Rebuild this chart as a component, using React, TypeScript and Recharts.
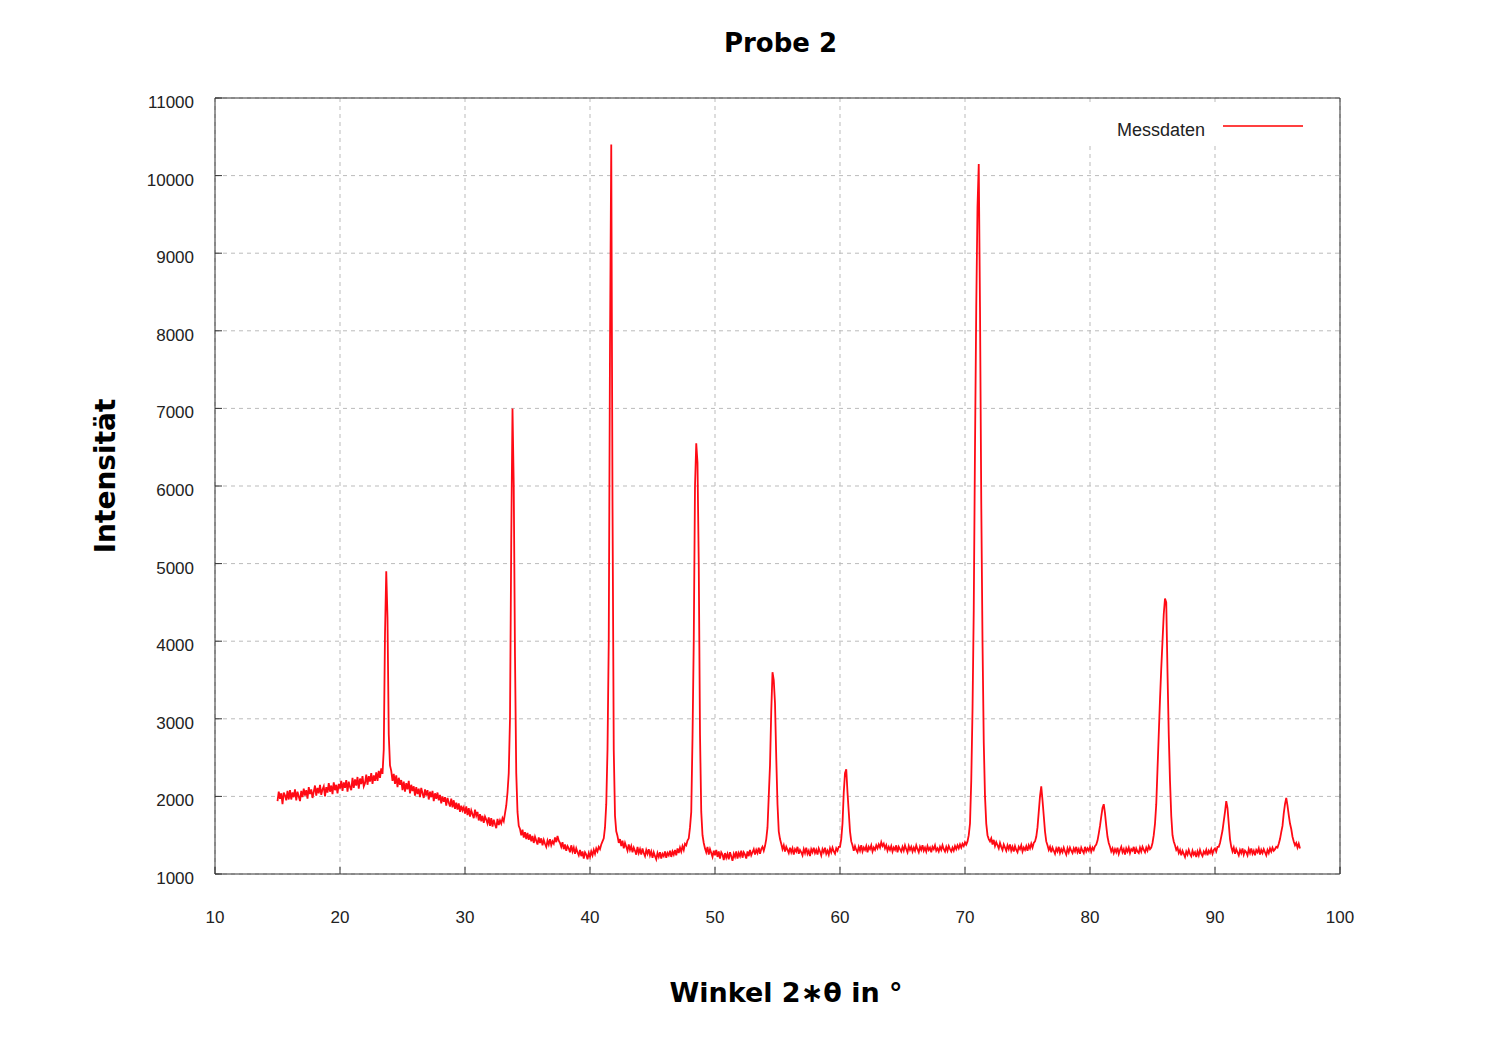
import React from 'react';
import { LineChart, Line, XAxis, YAxis, CartesianGrid, Legend } from 'recharts';

// scan step of the diffractometer (degrees 2θ)
const SCAN_STEP = 0.1;

// start angle of each measured segment below
const segmentStarts = [15.0, 24.1, 34.4, 42.2, 49.0, 55.3, 61.0, 72.0, 76.6, 81.6, 86.8, 91.4];

const scan15 = [
  1940, 2060, 1970, 2040, 1900, 2050, 2010, 1950, 2070, 1960,
  2080, 1960, 2050, 1990, 2090, 1950, 2060, 2000, 1940, 2070,
  1990, 2100, 2010, 2080, 1970, 2120, 2030, 2090, 1980, 2060,
  2140, 2010, 2110, 2040, 2150, 2020, 2090, 2130, 2000, 2120,
  2050, 2170, 2060, 2140, 2030, 2180, 2080, 2150, 2040, 2160,
  2100, 2200, 2070, 2180, 2110, 2210, 2060, 2190, 2120, 2080,
  2240, 2110, 2220, 2140, 2250, 2100, 2230, 2160, 2260, 2130,
  2170, 2280, 2150, 2260, 2190, 2300, 2160, 2270, 2200, 2310,
  2200, 2330, 2240, 2360, 2290, 2600, 4100, 4900, 4300, 2800,
  2400,
];
const scan24 = [
  2330, 2200, 2290, 2160, 2270, 2120, 2240, 2150, 2210,
  2080, 2190, 2060, 2170, 2090, 2200, 2040, 2150, 2070, 2130,
  2010, 2120, 2030, 2100, 1990, 2110, 2040, 1980, 2090, 2010,
  2080, 1960, 2060, 1990, 2070, 1940, 2040, 1970, 2050, 1950,
  2020, 1910, 2000, 1930, 1990, 1880, 1980, 1920, 1870, 1970,
  1860, 1950, 1840, 1920, 1830, 1910, 1800, 1880, 1820, 1860,
  1780, 1870, 1760, 1850, 1740, 1820, 1770, 1720, 1830, 1750,
  1800, 1690, 1770, 1680, 1750, 1660, 1740, 1700, 1650, 1730,
  1620, 1720, 1610, 1700, 1640, 1590, 1710, 1630, 1690, 1650,
  1720, 1680, 1780, 1880, 2050, 2300, 3000, 5300, 7000, 6000,
  3800, 2300, 1800, 1620,
];
const scan34 = [
  1580, 1500, 1570, 1470, 1540, 1450,
  1530, 1440, 1510, 1420, 1490, 1400, 1480, 1430, 1380, 1470,
  1400, 1460, 1370, 1440, 1390, 1350, 1430, 1380, 1450, 1370,
  1420, 1390, 1470, 1410, 1490, 1430, 1400, 1350, 1410, 1320,
  1380, 1300, 1360, 1330, 1280, 1370, 1290, 1340, 1260, 1330,
  1280, 1240, 1310, 1230, 1290, 1200, 1280, 1250, 1190, 1270,
  1220, 1290, 1240, 1310, 1260, 1330, 1290, 1350, 1320, 1380,
  1420, 1460, 1600, 1900, 2600, 4000, 7800, 10400, 5800, 2600,
  1750, 1550,
];
const scan42 = [
  1490, 1400, 1450, 1360, 1430, 1330, 1400, 1350,
  1300, 1380, 1310, 1360, 1280, 1340, 1300, 1250, 1350, 1270,
  1320, 1250, 1330, 1270, 1230, 1310, 1260, 1320, 1240, 1290,
  1210, 1280, 1230, 1190, 1270, 1220, 1280, 1200, 1260, 1230,
  1290, 1210, 1270, 1240, 1300, 1220, 1290, 1250, 1310, 1240,
  1330, 1270, 1340, 1290, 1360, 1310, 1390, 1370, 1430, 1460,
  1600, 1800, 2750, 4000, 6000, 6550, 6300, 5000, 2800, 1800,
];
const scan49 = [
  1500, 1400, 1330, 1280, 1350, 1250, 1320, 1270, 1220, 1300,
  1240, 1310, 1220, 1290, 1200, 1280, 1250, 1180, 1270, 1210,
  1260, 1190, 1280, 1230, 1170, 1260, 1220, 1290, 1200, 1270,
  1230, 1300, 1210, 1280, 1250, 1200, 1290, 1230, 1310, 1240,
  1280, 1320, 1250, 1310, 1270, 1340, 1260, 1320, 1350, 1300,
  1360, 1450, 1600, 2000, 2400, 3100, 3600, 3500, 3200, 2500,
  1900, 1550, 1450,
];
const scan55 = [
  1390, 1320, 1370, 1290, 1350, 1310, 1270,
  1340, 1280, 1330, 1250, 1320, 1290, 1350, 1260, 1310, 1280,
  1240, 1320, 1270, 1340, 1260, 1300, 1230, 1320, 1280, 1340,
  1270, 1310, 1250, 1330, 1290, 1240, 1320, 1280, 1340, 1260,
  1300, 1250, 1330, 1280, 1340, 1290, 1260, 1330, 1300, 1350,
  1350, 1450, 1650, 2050, 2300, 2350, 2050, 1800, 1550, 1420,
];
const scan61 = [
  1370, 1300, 1360, 1310, 1280, 1350, 1300, 1370, 1290, 1340,
  1310, 1360, 1280, 1350, 1320, 1370, 1290, 1340, 1310, 1370,
  1330, 1380, 1340, 1410, 1360, 1390, 1330, 1370, 1300, 1350,
  1310, 1360, 1290, 1340, 1310, 1370, 1280, 1350, 1320, 1290,
  1350, 1300, 1370, 1320, 1280, 1360, 1310, 1350, 1290, 1340,
  1300, 1370, 1320, 1280, 1350, 1310, 1370, 1300, 1340, 1290,
  1360, 1310, 1340, 1280, 1350, 1320, 1370, 1300, 1330, 1290,
  1350, 1310, 1370, 1320, 1290, 1350, 1300, 1360, 1320, 1290,
  1340, 1300, 1360, 1320, 1370, 1330, 1380, 1340, 1390, 1360,
  1410, 1380, 1420, 1500, 1650, 2200, 3100, 4400, 6500, 8300,
  9600, 10150, 8300, 5800, 4000, 2700, 2000, 1650, 1500, 1450,
];
const scan72 = [
  1420, 1460, 1380, 1440, 1360, 1410, 1370, 1330, 1400, 1350,
  1310, 1380, 1340, 1300, 1370, 1320, 1380, 1300, 1350, 1290,
  1360, 1310, 1280, 1350, 1320, 1370, 1290, 1340, 1310, 1360,
  1300, 1370, 1330, 1390, 1340, 1400, 1420, 1480, 1600, 1800,
  2000, 2130, 1950, 1750, 1550, 1420,
];
const scan76 = [
  1370, 1310, 1350, 1280,
  1340, 1300, 1260, 1330, 1290, 1350, 1270, 1320, 1280, 1340,
  1290, 1250, 1330, 1280, 1340, 1300, 1270, 1330, 1290, 1350,
  1280, 1320, 1260, 1340, 1300, 1270, 1350, 1290, 1330, 1300,
  1350, 1290, 1340, 1310, 1360, 1380, 1430, 1520, 1620, 1740,
  1850, 1900, 1780, 1620, 1480, 1400,
];
const scan81 = [
  1350, 1290, 1330, 1270,
  1320, 1280, 1340, 1260, 1310, 1350, 1280, 1320, 1250, 1330,
  1290, 1340, 1270, 1320, 1300, 1350, 1260, 1330, 1290, 1270,
  1340, 1290, 1350, 1310, 1280, 1340, 1300, 1360, 1320, 1340,
  1400, 1500, 1650, 1900, 2350, 2800, 3250, 3650, 4000, 4350,
  4550, 4500, 3600, 2800, 2200, 1750, 1500, 1420,
];
const scan86 = [
  1370, 1310,
  1340, 1270, 1310, 1240, 1300, 1260, 1220, 1290, 1250, 1310,
  1260, 1230, 1300, 1250, 1280, 1220, 1290, 1240, 1310, 1260,
  1230, 1290, 1260, 1310, 1240, 1300, 1270, 1320, 1260, 1310,
  1330, 1290, 1350, 1350, 1400, 1480, 1560, 1680, 1800, 1940,
  1850, 1650, 1450, 1350,
];
const scan91 = [
  1290, 1340, 1260, 1320, 1280, 1240,
  1310, 1270, 1330, 1250, 1300, 1280, 1240, 1320, 1270, 1330,
  1260, 1300, 1240, 1310, 1280, 1330, 1250, 1310, 1270, 1320,
  1280, 1240, 1310, 1270, 1330, 1290, 1340, 1300, 1320, 1350,
  1340, 1390, 1450, 1540, 1620, 1780, 1900, 1980, 1880, 1760,
  1650, 1580, 1480, 1420, 1370, 1400, 1340, 1390, 1330,
];

const segments = [scan15, scan24, scan34, scan42, scan49, scan55, scan61, scan72, scan76, scan81, scan86, scan91];

const xTicks = [10, 20, 30, 40, 50, 60, 70, 80, 90, 100];
const yTicks = [1000, 2000, 3000, 4000, 5000, 6000, 7000, 8000, 9000, 10000, 11000];

const data = segments.flatMap((seg, s) =>
  seg.map((v, i) => ({ angle: +(segmentStarts[s] + i * SCAN_STEP).toFixed(2), intensity: v }))
);

const AXIS_COLOR = '#333';
const TICK_FONT = { fontFamily: '"Liberation Sans", Arial, sans-serif', fontSize: 17, fill: '#222' };
const BOLD_FONT = '"DejaVu Sans", Verdana, sans-serif';

const LegendBox = () => (
  <div style={{ position: 'relative', width: 250, height: 39, background: '#fff' }}>
    <span
      style={{
        position: 'absolute',
        right: 130,
        top: 14,
        lineHeight: '20px',
        fontFamily: '"Liberation Sans", Arial, sans-serif',
        fontSize: 18,
        color: '#222',
        whiteSpace: 'nowrap',
      }}
    >
      Messdaten
    </span>
    <svg style={{ position: 'absolute', left: 138, top: 19 }} width={80} height={2}>
      <line x1={0} y1={1} x2={80} y2={1} stroke="#ff0000" strokeWidth={1.5} />
    </svg>
  </div>
);

export default function App() {
  return (
    <div style={{ position: 'absolute', left: 0, top: 0, width: 1488, height: 1046, background: '#fff' }}>
      <LineChart
        width={1488}
        height={1046}
        data={data}
        margin={{ top: 97, right: 147, bottom: 132, left: 155 }}
      >
        <CartesianGrid stroke="#bbb" strokeDasharray="4 4" />
        <XAxis
          dataKey="angle"
          type="number"
          domain={[10, 100]}
          ticks={xTicks}
          allowDataOverflow
          height={40}
          tickSize={-7}
          tickMargin={44}
          axisLine={{ stroke: AXIS_COLOR }}
          tickLine={{ stroke: AXIS_COLOR }}
          tick={TICK_FONT}
        />
        <XAxis
          xAxisId="top"
          orientation="top"
          dataKey="angle"
          type="number"
          domain={[10, 100]}
          ticks={xTicks}
          allowDataOverflow
          height={1}
          tickSize={-7}
          axisLine={{ stroke: AXIS_COLOR }}
          tickLine={{ stroke: AXIS_COLOR }}
          tick={false}
        />
        <YAxis
          type="number"
          domain={[1000, 11000]}
          ticks={yTicks}
          allowDataOverflow
          width={60}
          tickSize={-7}
          tickMargin={28}
          axisLine={{ stroke: AXIS_COLOR }}
          tickLine={{ stroke: AXIS_COLOR }}
          tick={{ ...TICK_FONT, dy: 4 }}
        />
        <YAxis
          yAxisId="right"
          orientation="right"
          type="number"
          domain={[1000, 11000]}
          ticks={yTicks}
          allowDataOverflow
          width={1}
          tickSize={-7}
          axisLine={{ stroke: AXIS_COLOR }}
          tickLine={{ stroke: AXIS_COLOR }}
          tick={false}
        />
        <Legend
          layout="horizontal"
          verticalAlign="middle"
          align="center"
          wrapperStyle={{ left: 1085, top: 106, width: 250, height: 39 }}
          content={() => <LegendBox />}
        />
        <Line
          xAxisId="top"
          yAxisId="right"
          dataKey="intensity"
          stroke="none"
          dot={false}
          activeDot={false}
          legendType="none"
          isAnimationActive={false}
        />
        <Line
          type="linear"
          dataKey="intensity"
          name="Messdaten"
          stroke="#ff0a14"
          strokeWidth={1.8}
          dot={false}
          activeDot={false}
          isAnimationActive={false}
        />
      </LineChart>
      <svg
        width={1488}
        height={1046}
        style={{ position: 'absolute', left: 0, top: 0, pointerEvents: 'none' }}
      >
        <text x={780.5} y={52} textAnchor="middle" fontFamily={BOLD_FONT} fontWeight="bold" fontSize={26} fill="#000">
          Probe 2
        </text>
        <text x={786} y={1002} textAnchor="middle" fontFamily={BOLD_FONT} fontWeight="bold" fontSize={27} fill="#000">
          Winkel 2∗θ in °
        </text>
        <text
          transform="translate(115,476) rotate(-90)"
          textAnchor="middle"
          fontFamily={BOLD_FONT}
          fontWeight="bold"
          fontSize={28}
          fill="#000"
        >
          Intensität
        </text>
      </svg>
    </div>
  );
}
